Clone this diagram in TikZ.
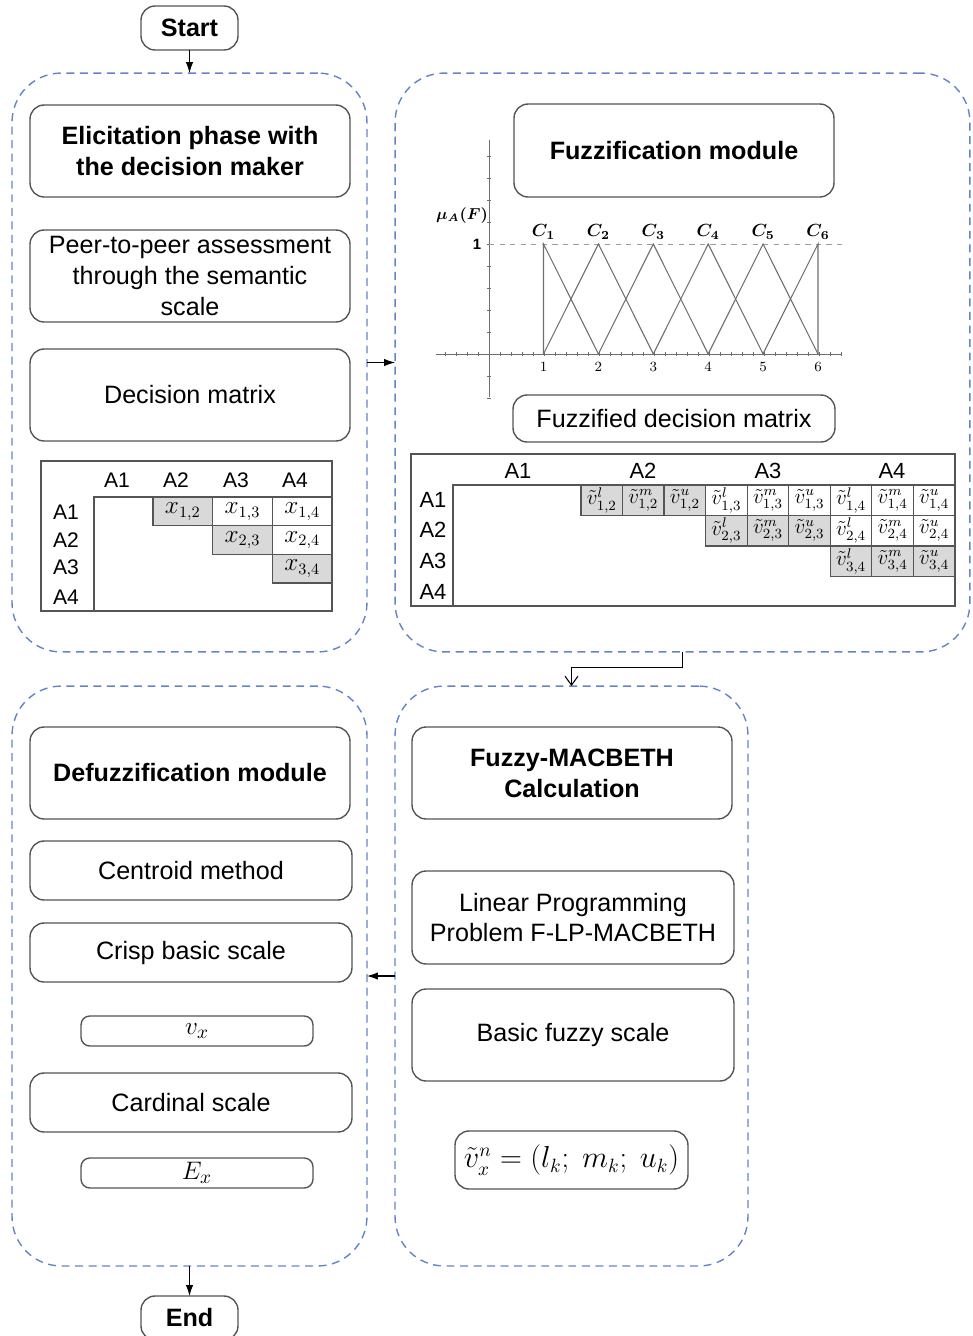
\documentclass[tikz,border=0pt]{standalone}
\usepackage{fontspec}
\setmainfont{Liberation Sans}
\usepackage{amsmath,bm}
\usetikzlibrary{arrows.meta}
\definecolor{dashblue}{RGB}{100,132,200}
\definecolor{boxgray}{RGB}{85,85,85}
\definecolor{cellgray}{RGB}{217,217,217}
\definecolor{plotgray}{RGB}{110,110,110}
\tikzset{
  box/.style={draw=boxgray, line width=0.8pt, rounded corners=8pt, align=center, outer sep=0pt, inner sep=2pt,
    font=\fontsize{14.3}{17.6}\selectfont},
  titlebox/.style={box, font=\fontsize{14.3}{17.6}\selectfont\bfseries},
  cont/.style={draw=dashblue, dash pattern=on 4.5pt off 3.2pt, line width=0.8pt, rounded corners=28pt, outer sep=0pt},
  arr/.style={-{Latex[length=2.2mm,width=1.5mm]}, line width=0.6pt, black},
  vee/.style={-{Straight Barb[length=1.8mm,width=2.6mm]}, line width=0.6pt, black},
  lab/.style={font=\fontsize{12}{13}\selectfont, inner sep=0pt},
  labr/.style={font=\fontsize{12.5}{13}\selectfont, inner sep=0pt},
  cell/.style={font=\fontsize{13.5}{14}\selectfont, inner sep=0pt},
  cellr/.style={font=\fontsize{12}{13}\selectfont, inner sep=0pt},
  plt/.style={plotgray, line width=0.6pt},
  axl/.style={font=\fontsize{8.5}{9}\selectfont, inner sep=0pt},
}
\begin{document}
\begin{tikzpicture}[x=0.02cm,y=-0.02cm]
\useasboundingbox (0,0) rectangle (973,1336);

% containers
\node[cont, minimum width=7.1cm, minimum height=11.58cm] (c1) at (189.5,362.5) {};
\node[cont, minimum width=11.5cm, minimum height=11.58cm] (c2) at (682.5,362.5) {};
\node[cont, minimum width=7.1cm, minimum height=11.6cm] (c3) at (189.5,976) {};
\node[cont, minimum width=7.06cm, minimum height=11.6cm] (c4) at (571.5,976) {};

% start / end
\node[titlebox, minimum width=1.94cm, minimum height=0.88cm] (start) at (189.5,28) {Start};
\node[titlebox, minimum width=1.94cm, minimum height=0.88cm] (end) at (189.5,1318) {End};

% container 1
\node[titlebox, minimum width=6.4cm, minimum height=1.84cm] (elicit) at (190,151) {Elicitation phase with\\the decision maker};
\node[box, minimum width=6.4cm, minimum height=1.84cm] (peer) at (190,276) {Peer-to-peer assessment\\through the semantic\\scale};
\node[box, minimum width=6.4cm, minimum height=1.84cm] (dm) at (190,395) {Decision matrix};

% left matrix
\node[draw=boxgray, line width=0.7pt, minimum width=5.82cm, minimum height=3.0cm, anchor=north west, inner sep=0pt, outer sep=0pt] (mat1) at (41,461) {};
\draw[boxgray, line width=0.7pt] (94,611) -- (94,497) -- (332,497);
\foreach \r/\j/\nm in {1/2/x12,2/3/x23,3/4/x34}{
  \filldraw[fill=cellgray, draw=boxgray, line width=0.7pt] ({153+(\j-2)*59.67},{497+(\r-1)*28.7}) rectangle ++(59.67,28.7);
  \node[cell] (\nm) at ({153+(\j-1.5)*59.67},{497+(\r-0.5)*28.7}) {$x_{\r,\j}$};
}
\foreach \r/\j/\nm in {1/3/x13,1/4/x14,2/4/x24}{
  \draw[boxgray, line width=0.7pt] ({153+(\j-2)*59.67},{497+(\r-1)*28.7}) rectangle ++(59.67,28.7);
  \node[cell] (\nm) at ({153+(\j-1.5)*59.67},{497+(\r-0.5)*28.7}) {$x_{\r,\j}$};
}
\foreach \t/\x in {1/117,2/176,3/236,4/295}{
  \node[lab] (lh\t) at (\x,480) {A\t};
}
\foreach \t/\y in {1/512,2/540,3/567,4/597}{
  \node[lab] (lr\t) at (66,\y) {A\t};
}

% container 2
\node[titlebox, minimum width=6.4cm, minimum height=1.86cm] (fuzz) at (674,150.5) {Fuzzification module};
% membership plot
\draw[plotgray, line width=0.4pt] (436,354) -- (842,354);
\draw[plotgray, line width=0.4pt] (489,140) -- (489,397);
\foreach \i in {-4,...,32}{
  \draw[plotgray, line width=0.3pt] ({489+\i*11},352) -- ({489+\i*11},356);
}
\foreach \i in {-2,...,9}{
  \draw[plotgray, line width=0.3pt] (487,{354-\i*22}) -- (491,{354-\i*22});
}
\draw[plotgray!70, line width=0.4pt, dashed] (489,244) -- (842,244);
\draw[plt] (543.5,354) -- (543.5,244) -- (598.4,354);
\foreach \k in {2,...,5}{
  \draw[plt] ({543.5+(\k-2)*54.9},354) -- ({543.5+(\k-1)*54.9},244) -- ({543.5+\k*54.9},354);
}
\draw[plt] (762.9,354) -- (818,244) -- (818,354);
\foreach \k in {1,...,6}{
  \node[axl] (n\k) at ({543.5+(\k-1)*54.9},367) {$\k$};
  \node[font=\fontsize{10}{11}\selectfont, inner sep=0pt] (C\k) at ({543.5+(\k-1)*54.9},232) {$\boldsymbol{C_{\k}}$};
}
\node[axl] (one) at (477,244) {$\mathbf{1}$};
\node[font=\fontsize{9}{10}\selectfont, inner sep=0pt] (mu) at (462,216) {$\boldsymbol{\mu_A(F)}$};

\node[box, minimum width=6.44cm, minimum height=0.94cm] (fdm) at (674,418.5) {Fuzzified decision matrix};

% right matrix
\node[draw=boxgray, line width=0.7pt, minimum width=10.88cm, minimum height=3.04cm, anchor=north west, inner sep=0pt, outer sep=0pt] (mat2) at (411,454) {};
\draw[boxgray, line width=0.7pt] (453,606) -- (453,485) -- (955,485);
\foreach \r/\j in {1/2,2/3,3/4}{
  \foreach \s/\t in {0/l,1/m,2/u}{
    \filldraw[fill=cellgray, draw=boxgray, line width=0.7pt] ({581+((\j-2)*3+\s)*41.55},{485+(\r-1)*30.5}) rectangle ++(41.55,30.5);
    \node[cellr] (v\r\j\t) at ({581+((\j-2)*3+\s+0.5)*41.55},{485+(\r-0.5)*30.5}) {$\tilde{v}^{\t}_{\r,\j}$};
  }
}
\foreach \r/\j in {1/3,1/4,2/4}{
  \foreach \s/\t in {0/l,1/m,2/u}{
    \draw[boxgray, line width=0.7pt] ({581+((\j-2)*3+\s)*41.55},{485+(\r-1)*30.5}) rectangle ++(41.55,30.5);
    \node[cellr] (v\r\j\t) at ({581+((\j-2)*3+\s+0.5)*41.55},{485+(\r-0.5)*30.5}) {$\tilde{v}^{\t}_{\r,\j}$};
  }
}
\foreach \t/\x in {1/518,2/643,3/768,4/892}{
  \node[labr] (rh\t) at (\x,471) {A\t};
}
\foreach \t/\y in {1/500,2/530,3/561,4/592}{
  \node[labr] (rr\t) at (433,\y) {A\t};
}

% container 3
\node[titlebox, minimum width=6.4cm, minimum height=1.84cm] (defuzz) at (190,773) {Defuzzification module};
\node[box, minimum width=6.44cm, minimum height=1.18cm] (centroid) at (191,870.5) {Centroid method};
\node[box, minimum width=6.44cm, minimum height=1.18cm] (crisp) at (191,952.5) {Crisp basic scale};
\node[box, rounded corners=5pt, minimum width=4.64cm, minimum height=0.6cm, font=\fontsize{15}{16}\selectfont] (vx) at (197,1031) {$v_x$};
\node[box, minimum width=6.44cm, minimum height=1.18cm] (cardinal) at (191,1102.5) {Cardinal scale};
\node[box, rounded corners=5pt, minimum width=4.64cm, minimum height=0.6cm, font=\fontsize{15}{16}\selectfont] (ex) at (197,1173) {$E_x$};

% container 4
\node[titlebox, minimum width=6.4cm, minimum height=1.84cm] (fmac) at (572,773) {Fuzzy-MACBETH\\Calculation};
\node[box, minimum width=6.44cm, minimum height=1.86cm] (lp) at (573,917.5) {Linear Programming\\Problem F-LP-MACBETH};
\node[box, minimum width=6.44cm, minimum height=1.84cm] (bfs) at (573,1035) {Basic fuzzy scale};
\node[box, minimum width=4.66cm, minimum height=1.16cm, font=\fontsize{16}{17}\selectfont] (formula) at (571.5,1160) {$\tilde{v}_x^{n}=(l_k;\ m_k;\ u_k)$};

% connectors
\draw[arr] (start.south) -- (c1.north);
\draw[arr] (c1.east) -- (c2.west);
\draw[vee] (c2.south) -- ++(0,16) -| (c4.north);
\draw[arr] (c4.west) -- (c3.east);
\draw[arr] (c3.south) -- (end.north);
\end{tikzpicture}
\end{document}
